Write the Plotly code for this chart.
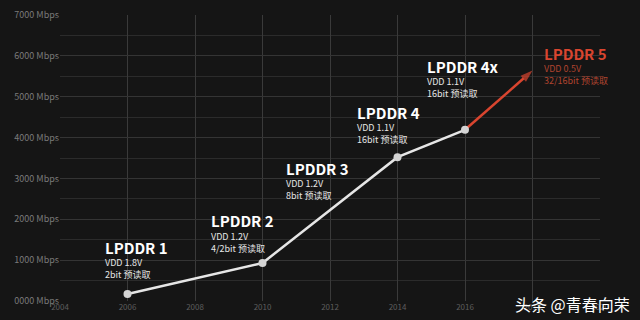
import plotly.graph_objects as go

years = [2006, 2010, 2014, 2016]
speeds = [170, 930, 3520, 4190]
future_years = [2016, 2018]
future_speeds = [4190, 5640]

names = ["LPDDR 1", "LPDDR 2", "LPDDR 3", "LPDDR 4", "LPDDR 4x", "LPDDR 5"]
vdd = ["VDD 1.8V", "VDD 1.2V", "VDD 1.2V", "VDD 1.1V", "VDD 1.1V", "VDD 0.5V"]
prefetch = ["2bit 预读取", "4/2bit 预读取", "8bit 预读取", "16bit 预读取", "16bit 预读取", "32/16bit 预读取"]
# label anchor (year, value) for each generation title
label_x = [2005.33, 2008.47, 2010.7, 2012.8, 2014.87, 2018.34]
label_y = [1310, 1960, 3250, 4620, 5740, 6070]

y_ticks = [0, 1000, 2000, 3000, 4000, 5000, 6000, 7000]
y_ticktext = ["0000 Mbps", "1000 Mbps", "2000 Mbps", "3000 Mbps", "4000 Mbps", "5000 Mbps", "6000 Mbps", "7000 Mbps"]
x_ticks = [2004, 2006, 2008, 2010, 2012, 2014, 2016, 2018, 2020]

RED = "#d9452f"
RED_SUB = "#b0442f"
FONT = "Noto Sans CJK SC"

fig = go.Figure()
fig.add_trace(go.Scatter(
    x=future_years, y=future_speeds, mode="lines+markers",
    line=dict(color=RED, width=2.5),
    marker=dict(symbol=["circle", "arrow"], size=[0, 13], color=RED, angleref="previous",
                line=dict(width=0)),
    hoverinfo="skip", showlegend=False))
fig.add_trace(go.Scatter(
    x=years, y=speeds, mode="lines+markers",
    line=dict(color="#e6e6e6", width=2.5),
    marker=dict(size=8, color="#d4d4d4", line=dict(width=0)),
    showlegend=False))

for i, n in enumerate(names):
    col = RED if i == 5 else "#ffffff"
    subcol = RED_SUB if i == 5 else "#e6e6e6"
    fig.add_annotation(x=label_x[i], y=label_y[i], text="<b>" + n + "</b>", showarrow=False,
                       xanchor="left", yanchor="middle", xshift=-2, align="left",
                       font=dict(family=FONT, size=15, color=col))
    fig.add_annotation(x=label_x[i], y=label_y[i], text=vdd[i] + "<br>" + prefetch[i], showarrow=False,
                       xanchor="left", yanchor="top", yshift=-7, xshift=-2, align="left",
                       font=dict(family=FONT, size=9, color=subcol))

fig.add_annotation(xref="paper", yref="paper", x=1.06, y=-0.01, text="头条 @青春向荣", showarrow=False,
                   xanchor="right", yanchor="middle",
                   font=dict(family=FONT, size=16, color="#ffffff"))

fig.update_layout(
    width=640, height=320,
    margin=dict(l=60, r=40, t=8, b=18),
    paper_bgcolor="#151515", plot_bgcolor="#151515",
    font=dict(family=FONT, color="#7a7a7a", size=8),
    xaxis=dict(range=[2004, 2020], tickvals=x_ticks, showgrid=True, gridcolor="#3a3a3a",
               gridwidth=1, zeroline=False, showline=False, ticks="",
               tickfont=dict(size=8, color="#5e5e5e")),
    yaxis=dict(range=[0, 7000], tickvals=y_ticks, ticktext=y_ticktext, showgrid=True,
               gridcolor="#343434", zeroline=False, showline=False, ticks="",
               minor=dict(dtick=500, showgrid=True, gridcolor="#2b2b2b"),
               tickfont=dict(size=9, color="#7a7a7a")),
)

fig.write_html("out.html")
